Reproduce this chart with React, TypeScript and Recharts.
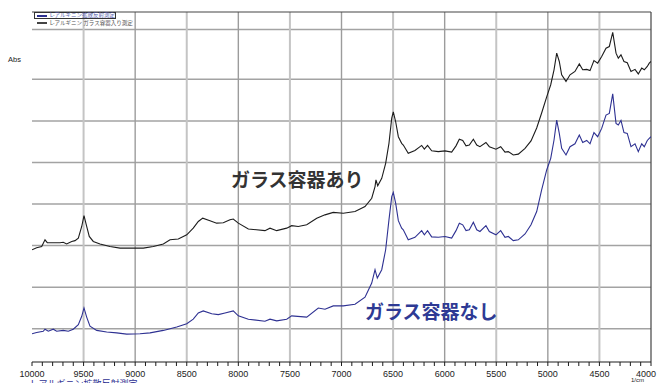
import React from "react";
import { LineChart, Line, XAxis, YAxis, ReferenceLine } from "recharts";

// [wavenumber (1/cm), Abs]
const withGlass: [number, number][] = [
  [10000, 0.29], [9955, 0.295], [9906, 0.298], [9874, 0.314], [9852, 0.307], [9794, 0.307],
  [9729, 0.307], [9697, 0.308], [9664, 0.304], [9615, 0.31], [9583, 0.312], [9551, 0.318],
  [9518, 0.346], [9496, 0.372], [9470, 0.346], [9445, 0.322], [9406, 0.31], [9341, 0.304],
  [9244, 0.298], [9147, 0.294], [9050, 0.294], [8921, 0.294], [8824, 0.298], [8727, 0.304],
  [8662, 0.314], [8582, 0.316], [8500, 0.326], [8437, 0.342], [8388, 0.358], [8345, 0.366],
  [8275, 0.36], [8210, 0.354], [8146, 0.355], [8081, 0.362], [8049, 0.364], [8000, 0.354],
  [7903, 0.34], [7742, 0.336], [7693, 0.342], [7628, 0.336], [7531, 0.342], [7483, 0.348],
  [7419, 0.346], [7337, 0.35], [7240, 0.366], [7160, 0.374], [7080, 0.38], [6983, 0.378],
  [6869, 0.382], [6772, 0.394], [6707, 0.414], [6675, 0.442], [6666, 0.458], [6649, 0.444],
  [6610, 0.462], [6572, 0.498], [6540, 0.546], [6513, 0.607], [6498, 0.622], [6475, 0.598],
  [6449, 0.562], [6417, 0.546], [6401, 0.542], [6353, 0.522], [6288, 0.529], [6223, 0.541],
  [6197, 0.532], [6166, 0.541], [6126, 0.528], [6062, 0.526], [5997, 0.528], [5932, 0.525],
  [5890, 0.54], [5858, 0.556], [5825, 0.553], [5793, 0.54], [5761, 0.542], [5722, 0.556],
  [5689, 0.542], [5658, 0.538], [5600, 0.548], [5567, 0.538], [5503, 0.532], [5457, 0.538],
  [5415, 0.525], [5383, 0.526], [5335, 0.518], [5286, 0.52], [5221, 0.534], [5163, 0.552],
  [5108, 0.583], [5060, 0.619], [5011, 0.658], [4972, 0.687], [4940, 0.723], [4914, 0.763],
  [4889, 0.743], [4866, 0.711], [4824, 0.695], [4785, 0.711], [4737, 0.719], [4695, 0.737],
  [4662, 0.723], [4623, 0.724], [4591, 0.721], [4553, 0.745], [4517, 0.739], [4478, 0.755],
  [4436, 0.775], [4404, 0.779], [4371, 0.813], [4339, 0.763], [4317, 0.751], [4291, 0.759],
  [4262, 0.743], [4230, 0.74], [4194, 0.719], [4155, 0.724], [4123, 0.713], [4090, 0.727],
  [4065, 0.723], [4036, 0.731], [4017, 0.739], [4000, 0.743],
];

const diffuse: [number, number][] = [
  [10000, 0.088], [9955, 0.091], [9891, 0.094], [9874, 0.099], [9842, 0.094], [9794, 0.099],
  [9761, 0.094], [9697, 0.096], [9648, 0.094], [9600, 0.099], [9551, 0.11], [9518, 0.13],
  [9496, 0.15], [9470, 0.128], [9438, 0.106], [9373, 0.096], [9276, 0.092], [9179, 0.09],
  [9082, 0.087], [8953, 0.088], [8856, 0.09], [8727, 0.096], [8597, 0.104], [8500, 0.112],
  [8437, 0.123], [8388, 0.138], [8340, 0.143], [8258, 0.136], [8194, 0.134], [8129, 0.138],
  [8049, 0.143], [8000, 0.131], [7903, 0.123], [7742, 0.118], [7693, 0.123], [7628, 0.119],
  [7531, 0.123], [7483, 0.131], [7337, 0.128], [7225, 0.15], [7160, 0.147], [7080, 0.155],
  [6983, 0.155], [6869, 0.159], [6772, 0.176], [6707, 0.21], [6675, 0.242], [6653, 0.222],
  [6610, 0.242], [6572, 0.29], [6540, 0.362], [6513, 0.418], [6498, 0.428], [6475, 0.402],
  [6449, 0.36], [6417, 0.342], [6401, 0.338], [6353, 0.314], [6288, 0.32], [6223, 0.336],
  [6197, 0.326], [6166, 0.336], [6126, 0.321], [6062, 0.32], [5997, 0.322], [5932, 0.318],
  [5890, 0.336], [5858, 0.354], [5825, 0.35], [5793, 0.336], [5761, 0.338], [5722, 0.356],
  [5689, 0.338], [5658, 0.334], [5600, 0.348], [5567, 0.334], [5503, 0.326], [5457, 0.336],
  [5415, 0.32], [5383, 0.322], [5335, 0.312], [5286, 0.314], [5221, 0.328], [5163, 0.35],
  [5108, 0.382], [5060, 0.434], [5011, 0.482], [4972, 0.51], [4940, 0.554], [4914, 0.602],
  [4889, 0.57], [4866, 0.534], [4824, 0.518], [4785, 0.538], [4737, 0.545], [4695, 0.566],
  [4662, 0.548], [4623, 0.553], [4591, 0.545], [4553, 0.572], [4517, 0.562], [4478, 0.582],
  [4436, 0.614], [4404, 0.618], [4371, 0.665], [4339, 0.594], [4317, 0.59], [4291, 0.601],
  [4262, 0.572], [4230, 0.57], [4194, 0.538], [4155, 0.545], [4123, 0.526], [4090, 0.545],
  [4065, 0.538], [4036, 0.553], [4017, 0.558], [4000, 0.562],
];

const xLabels = [10000, 9500, 9000, 8500, 8000, 7500, 7000, 6500, 6000, 5500, 5000, 4500, 4000];
const xMinor = xLabels.slice(0, -1).flatMap((v) => [v, v - 100, v - 200, v - 300, v - 400]).concat(4000);
const yGrid = [0.1, 0.2, 0.3, 0.4, 0.5, 0.6, 0.7, 0.82];
const yMinor = Array.from({ length: 41 }, (_, i) => +(0.04 + i * 0.02).toFixed(2));

const BLUE = "#2e3192";
const INK = "#1c1c1c";
const NUM_FONT = "'Liberation Sans Narrow', 'Liberation Sans', Arial, sans-serif";
const JP_FONT = "'Noto Sans CJK JP', 'Noto Sans', sans-serif";

const toPoints = (rows: [number, number][]) => rows.map(([wn, abs]) => ({ wn, abs }));

function XTick({ x, y, payload }: any) {
  const major = payload.value % 500 === 0;
  // the last label is pulled in so it stays inside the frame
  const last = payload.value === 4000;
  return (
    <g>
      <line x1={x} x2={x} y1={y} y2={y + 4} stroke={INK} strokeWidth={1} />
      {major && (
        <text
          x={last ? x + 5 : x}
          y={y + 14.5}
          textAnchor={last ? "end" : "middle"}
          fontSize={9}
          fontFamily={NUM_FONT}
          fill="#222"
        >
          {payload.value}
        </text>
      )}
    </g>
  );
}

function YTick({ x, y, payload }: any) {
  const major = yGrid.some((g) => Math.abs(g - payload.value) < 1e-6);
  return <line x1={x - (major ? 10 : 4)} x2={x} y1={y} y2={y} stroke={INK} strokeWidth={1} />;
}

export default function App() {
  return (
    <div
      style={{
        position: "absolute",
        left: 0,
        top: 0,
        width: 657,
        height: 383,
        overflow: "hidden",
        background: "#fff",
        fontFamily: JP_FONT,
      }}
    >
      <LineChart width={657} height={383} margin={{ top: 12, right: 6, bottom: 0, left: 32 }}>
        <XAxis
          type="number"
          dataKey="wn"
          domain={[4000, 10000]}
          reversed
          allowDataOverflow
          ticks={xMinor}
          interval={0}
          height={21}
          tickSize={0}
          tickMargin={0}
          tickLine={false}
          tick={<XTick />}
          axisLine={{ stroke: INK, strokeWidth: 1.2 }}
        />
        <YAxis
          type="number"
          domain={[0.02, 0.862]}
          allowDataOverflow
          ticks={yMinor}
          interval={0}
          width={0}
          tickSize={0}
          tickMargin={0}
          tickLine={false}
          tick={<YTick />}
          axisLine={{ stroke: INK, strokeWidth: 1.2 }}
        />
        {yGrid.map((v) => (
          <ReferenceLine key={`h${v}`} y={v} stroke="#a3a3a3" strokeWidth={1.5} />
        ))}
        {xLabels.slice(1, -1).map((v) => (
          <ReferenceLine
            key={`v${v}`}
            x={v}
            stroke={v % 1000 === 0 ? "#9c9c9c" : "#c4c4c4"}
            strokeWidth={v % 1000 === 0 ? 1.4 : 2}
          />
        ))}
        <ReferenceLine y={0.862} stroke="#444" strokeWidth={1.2} />
        <ReferenceLine x={4000} stroke="#444" strokeWidth={1.2} />
        <Line
          data={toPoints(withGlass)}
          dataKey="abs"
          name="L-アルギニン ガラス容器入り測定"
          type="linear"
          stroke={INK}
          strokeWidth={1.1}
          dot={false}
          isAnimationActive={false}
        />
        <Line
          data={toPoints(diffuse)}
          dataKey="abs"
          name="L-アルギニン拡散反射測定"
          type="linear"
          stroke={BLUE}
          strokeWidth={1.1}
          dot={false}
          isAnimationActive={false}
        />
      </LineChart>

      {/* legend */}
      <div style={{ position: "absolute", left: 34, top: 12, width: 82, height: 7, border: "1px solid #333", boxSizing: "border-box" }} />
      <div style={{ position: "absolute", left: 37, top: 15, width: 10, height: 1.5, background: BLUE }} />
      <div style={{ position: "absolute", left: 50, top: 12, fontSize: 5.5, lineHeight: "6px", color: "#5a5fb0", whiteSpace: "nowrap" }}>
        L-アルギニン拡散反射測定
      </div>
      <div style={{ position: "absolute", left: 37, top: 22, width: 10, height: 1.5, background: "#444" }} />
      <div style={{ position: "absolute", left: 50, top: 19.5, fontSize: 5.5, lineHeight: "6px", color: "#555", whiteSpace: "nowrap" }}>
        L-アルギニン ガラス容器入り測定
      </div>

      <div style={{ position: "absolute", left: 8, top: 55, fontSize: 7.5, fontFamily: NUM_FONT, color: "#222" }}>Abs</div>
      <div style={{ position: "absolute", left: 631, top: 377, fontSize: 6, lineHeight: "6px", fontFamily: NUM_FONT, color: "#222" }}>1/cm</div>
      <div style={{ position: "absolute", left: 31, top: 379, fontSize: 9, lineHeight: "10px", color: BLUE, whiteSpace: "nowrap" }}>
        L-アルギニン拡散反射測定
      </div>

      <div style={{ position: "absolute", left: 231, top: 169, fontSize: 19, lineHeight: "20px", fontWeight: 700, color: "#333", whiteSpace: "nowrap" }}>
        ガラス容器あり
      </div>
      <div style={{ position: "absolute", left: 365, top: 301, fontSize: 19, lineHeight: "20px", fontWeight: 700, color: "#2e3a94", whiteSpace: "nowrap" }}>
        ガラス容器なし
      </div>
    </div>
  );
}
